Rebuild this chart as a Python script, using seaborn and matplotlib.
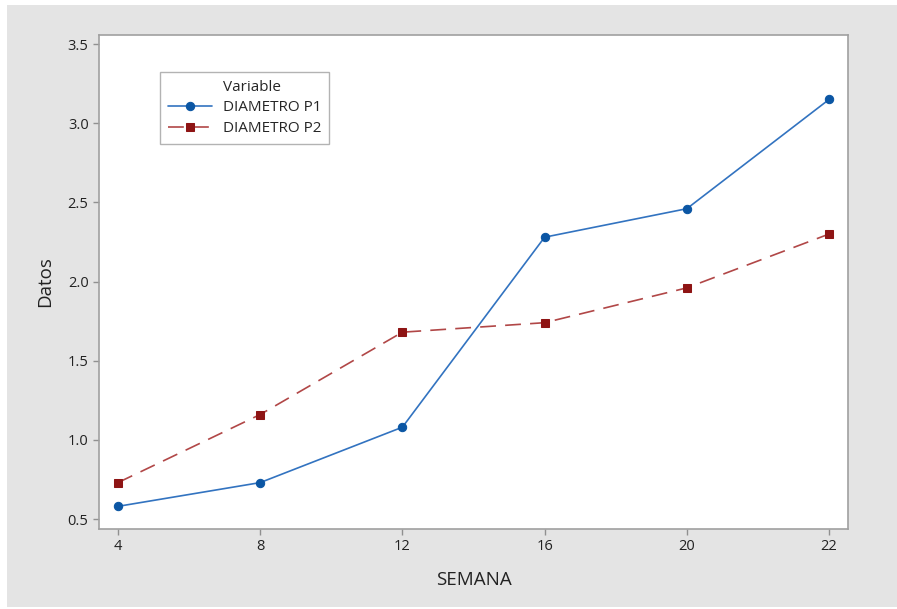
import numpy as np
import pandas as pd
import matplotlib
matplotlib.use("Agg")
import matplotlib.pyplot as plt
from matplotlib.lines import Line2D
import seaborn as sns

semana = ["4", "8", "12", "16", "20", "22"]
diametro_p1 = [0.58, 0.73, 1.08, 2.28, 2.46, 3.15]
diametro_p2 = [0.73, 1.16, 1.68, 1.74, 1.96, 2.30]

df = pd.DataFrame({
    "pos": list(range(len(semana))) * 2,
    "Datos": diametro_p1 + diametro_p2,
    "Variable": ["DIAMETRO P1"] * len(semana) + ["DIAMETRO P2"] * len(semana),
})

sns.set_style("white")
plt.rcParams['font.family'] = ['Open Sans', 'DejaVu Sans']

BG = "#e4e4e4"
BLUE_LINE = "#3273c0"
BLUE_MK = "#0b56a4"
RED_LINE = "#b14747"
RED_MK = "#8e1414"

fig = plt.figure(figsize=(8.97, 6.09), dpi=100)
fig.patch.set_facecolor("white")
fig.patches.append(plt.Rectangle((7 / 897, 2 / 609), 890 / 897, 602 / 609,
                                 transform=fig.transFigure, facecolor=BG,
                                 edgecolor="none", zorder=-10))
ax = fig.add_axes([99 / 897, 1 - 529 / 609, 749 / 897, 494 / 609])
ax.set_facecolor("white")

p1 = df[df["Variable"] == "DIAMETRO P1"]
p2 = df[df["Variable"] == "DIAMETRO P2"]
sns.lineplot(data=p1, x="pos", y="Datos", ax=ax, color=BLUE_LINE, lw=1.2,
             marker="o", markersize=6, markerfacecolor=BLUE_MK,
             markeredgecolor=BLUE_MK, label="DIAMETRO P1")
sns.lineplot(data=p2, x="pos", y="Datos", ax=ax, color=RED_LINE, lw=1.2,
             marker="s", markersize=5.2, markerfacecolor=RED_MK,
             markeredgecolor=RED_MK, dashes=(9.5, 5.5), label="DIAMETRO P2")

ax.set_xlim(-0.133, 5.133)
ax.set_ylim(0.437, 3.557)
ax.set_xticks(range(len(semana)))
ax.set_xticklabels(semana)
ax.set_yticks([0.5, 1.0, 1.5, 2.0, 2.5, 3.0, 3.5])
ax.set_yticklabels(["0.5", "1.0", "1.5", "2.0", "2.5", "3.0", "3.5"])
ax.tick_params(axis="both", which="major", labelsize=10.5, color="#909090",
               length=4, width=1, direction="out", left=True, bottom=True,
               labelcolor="#222222")
ax.set_xlabel("SEMANA", fontsize=13.5, color="#222222", labelpad=12)
ax.set_ylabel("Datos", fontsize=13.5, color="#222222", labelpad=10)
for s in ax.spines.values():
    s.set_color("#a0a0a0")
    s.set_linewidth(1.2)

handles, labels = ax.get_legend_handles_labels()
title_handle = Line2D([], [], linestyle="none", marker="none")
leg = ax.legend([title_handle] + handles, ["Variable"] + labels,
                loc="upper left", bbox_to_anchor=(61 / 749, 1 - 37 / 494),
                fontsize=11, frameon=True, fancybox=False,
                borderpad=0.5, handlelength=2.9, handletextpad=0.7,
                labelspacing=0.38, borderaxespad=0)
leg.get_frame().set_edgecolor("#a0a0a0")
leg.get_frame().set_linewidth(1.0)

plt.savefig("out.png", dpi=100, facecolor=fig.get_facecolor())
